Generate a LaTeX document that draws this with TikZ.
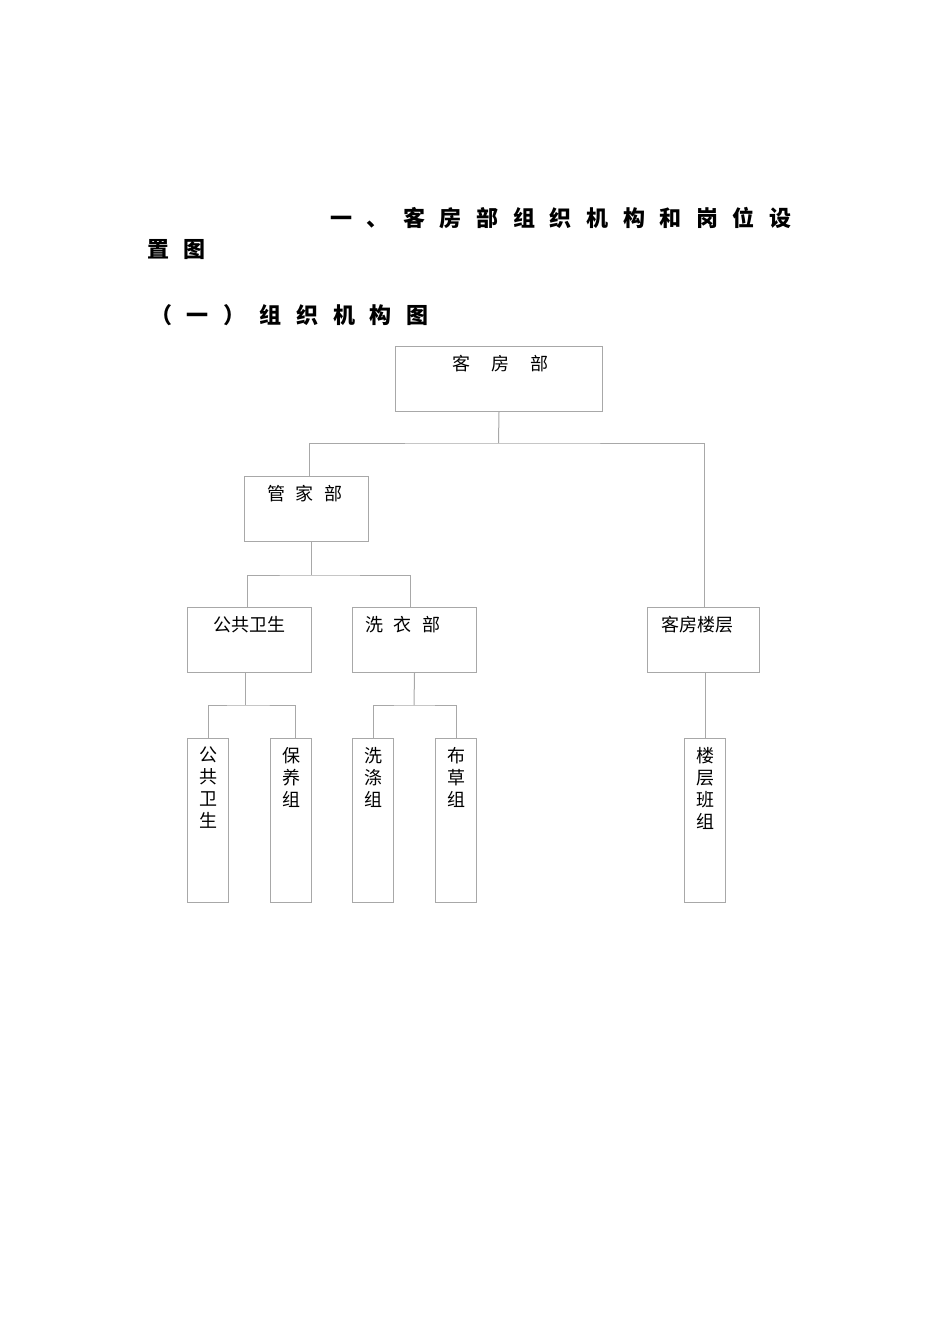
\documentclass[tikz,border=0pt]{standalone}
\usepackage{fontspec}
\newfontfamily\cjk{Noto Sans CJK SC}
\definecolor{linegray}{HTML}{A8A8A8}
\newcommand{\tg}{\hspace{14.6pt}}
\begin{document}
\begin{tikzpicture}[x=1pt,y=-1pt,
  box/.style={draw=linegray, line width=1pt, rectangle, inner sep=0pt, anchor=north west},
  topbox/.style={box, minimum height=65pt},
  leaf/.style={box, minimum width=41pt, minimum height=164pt},
  lab/.style={anchor=north, inner sep=0pt, yshift=-9pt, font=\cjk\fontsize{18pt}{22pt}\selectfont, align=center},
  conn/.style={draw=linegray, line width=1pt},
  title/.style={anchor=west, inner sep=0pt, font=\cjk\bfseries\fontsize{22pt}{26pt}\selectfont}]
\useasboundingbox (0,0) rectangle (950,1344);
\fill[white] (0,0) rectangle (950,1344);

% titles
\node[title] (t1) at (330,218) {一\tg 、\tg 客\tg 房\tg 部\tg 组\tg 织\tg 机\tg 构\tg 和\tg 岗\tg 位\tg 设};
\node[title] (t2) at (147,250) {置\tg 图};
\node[title] (t3) at (150,315) {（\tg 一\tg ）\tg 组\tg 织\tg 机\tg 构\tg 图};

% boxes
\node[topbox, minimum width=207pt, label={[lab, xshift=1.5pt]north:{客\hspace{21pt}房\hspace{21pt}部}}] (kfb) at (395,346) {};
\node[topbox, minimum width=124pt, label={[lab, xshift=-1.5pt]north:{管\hspace{10.5pt}家\hspace{10.5pt}部}}] (gjb) at (244,476) {};
\node[topbox, minimum width=124pt, label={[lab]north:{公共卫生}}] (ggws) at (187,607) {};
\node[topbox, minimum width=124pt, label={[lab, xshift=-11.5pt]north:{洗\hspace{10.5pt}衣\hspace{10.5pt}部}}] (xyb) at (352,607) {};
\node[topbox, minimum width=112pt, label={[lab, xshift=-6pt]north:{客房楼层}}] (kflc) at (647,607) {};

\node[leaf, label={[lab]north:{公\\共\\卫\\生}}] (l1) at (187,738) {};
\node[leaf, label={[lab]north:{保\\养\\组}}] (l2) at (270,738) {};
\node[leaf, label={[lab]north:{洗\\涤\\组}}] (l3) at (352,738) {};
\node[leaf, label={[lab]north:{布\\草\\组}}] (l4) at (435,738) {};
\node[leaf, label={[lab]north:{楼\\层\\班\\组}}] (l5) at (684,738) {};

% connectors
\coordinate (j1) at (498.5,443);
\draw[conn] (kfb.south) -- (j1);
\draw[conn] ([xshift=3pt]gjb.north) |- (j1) -| ([xshift=1pt]kflc.north);

\coordinate (j2) at (311,575);
\draw[conn] (j2 |- gjb.south) -- (j2);
\draw[conn] ([xshift=-2pt]ggws.north) |- (j2) -| ([xshift=-4pt]xyb.north);

\coordinate (j3) at (245,705);
\draw[conn] (j3 |- ggws.south) -- (j3);
\draw[conn] (l1.north) |- (j3) -| ([xshift=4.5pt]l2.north);

\coordinate (j4) at (414,705);
\draw[conn] (xyb.south) -- (j4);
\draw[conn] (l3.north) |- (j4) -| (l4.north);

\draw[conn] (l5.north |- kflc.south) -- (l5.north);
\end{tikzpicture}
\end{document}
